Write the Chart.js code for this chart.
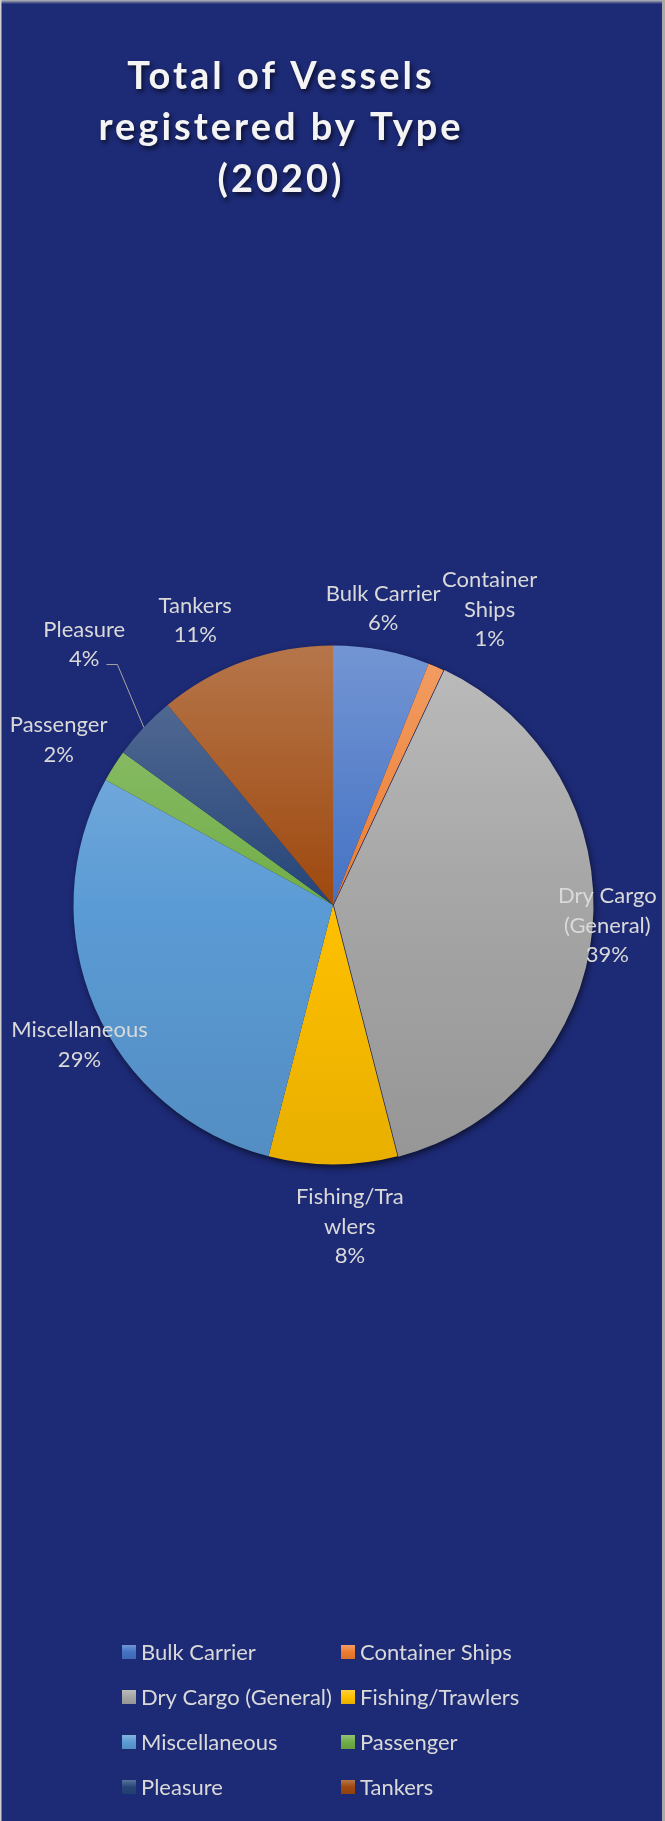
<!DOCTYPE html>
<html>
<head>
<meta charset="utf-8">
<script src="https://cdn.jsdelivr.net/npm/chart.js@4/dist/chart.umd.min.js"></script>
<style>
  html, body { margin: 0; padding: 0; background: #1d2a75; }
  #wrap { position: relative; width: 665px; height: 1821px; }
  canvas { display: block; }
</style>
</head>
<body>
<div id="wrap"><canvas id="vessels" width="665" height="1821"></canvas></div>
<script>
// Vessel categories and their share of the 2020 register (percent)
const categories = ['Bulk Carrier', 'Container Ships', 'Dry Cargo (General)', 'Fishing/Trawlers',
                    'Miscellaneous', 'Passenger', 'Pleasure', 'Tankers'];
const sharePercent = [6, 1, 39, 8, 29, 2, 4, 11];

// Wrapped category text used by the slice labels
const labelLines = [['Bulk Carrier'], ['Container', 'Ships'], ['Dry Cargo', '(General)'], ['Fishing/Tra', 'wlers'],
                    ['Miscellaneous'], ['Passenger'], ['Pleasure'], ['Tankers']];

const titleLines = ['Total of Vessels', 'registered by Type', '(2020)'];

const sliceColors = ['#4472C4', '#ED7D31', '#A5A5A5', '#FFC000', '#5B9BD5', '#70AD47', '#264478', '#9E480E'];

// Where each slice label sits: distance as a multiple of the radius, and a nudge (degrees) off the slice middle
const labelPlacement = [
  { dist: 1.16,  nudge: -1.2 },
  { dist: 1.29,  nudge: 4.5 },
  { dist: 1.06,  nudge: -1.2 },
  { dist: 1.24,  nudge: -3.0 },
  { dist: 1.115, nudge: -5.4 },
  { dist: 1.235, nudge: -1.3 },
  { dist: 1.39,  nudge: 3.2, leader: true },
  { dist: 1.22,  nudge: -6.0 }
];

const BG = '#1d2a75';
const TEXT = '#d9d9d9';
const LABEL_FONT = '22px Lato';
const LINE_H = 29.5;

function hexToRgb(h) {
  const n = parseInt(h.slice(1), 16);
  return [(n >> 16) & 255, (n >> 8) & 255, n & 255];
}
function tint(h, t) {
  const c = hexToRgb(h);
  return 'rgb(' + c.map(v => Math.round(v + (255 - v) * t)).join(',') + ')';
}
function shade(h, s) {
  const c = hexToRgb(h);
  return 'rgb(' + c.map(v => Math.round(v * s)).join(',') + ')';
}
function verticalFill(ctx, color, top, bottom) {
  const g = ctx.createLinearGradient(0, top, 0, bottom);
  g.addColorStop(0, tint(color, 0.25));
  g.addColorStop(0.5, color);
  g.addColorStop(1, shade(color, 0.91));
  return g;
}

// Page background and thin frame
const backdrop = {
  id: 'backdrop',
  beforeDraw(chart) {
    const { ctx, width, height } = chart;
    ctx.save();
    ctx.fillStyle = BG;
    ctx.fillRect(0, 0, width, height);
    const tg = ctx.createLinearGradient(0, 0, 0, 4);
    tg.addColorStop(0, '#b8b8b8');
    tg.addColorStop(1, BG);
    ctx.fillStyle = tg;
    ctx.fillRect(0, 0, width, 4);
    ctx.fillStyle = '#cfcfcf';
    ctx.fillRect(0, 0, 1.5, height);
    ctx.fillStyle = '#a9a9a9';
    ctx.fillRect(width - 3, 0, 3, height);
    ctx.restore();
  }
};

// Soft drop shadow under the whole pie (also shows through the gaps of the pulled-out slice)
const pieShadow = {
  id: 'pieShadow',
  beforeDatasetsDraw(chart) {
    const arc = chart.getDatasetMeta(0).data[0];
    if (!arc) return;
    const { ctx } = chart;
    ctx.save();
    ctx.shadowColor = 'rgba(0,0,0,0.65)';
    ctx.shadowBlur = 7;
    ctx.shadowOffsetX = 2;
    ctx.shadowOffsetY = 3;
    ctx.fillStyle = '#161e52';
    ctx.beginPath();
    ctx.arc(arc.x, arc.y, arc.outerRadius - 0.5, 0, Math.PI * 2);
    ctx.fill();
    ctx.restore();
  }
};

// Category + percentage labels around the slices
const sliceLabels = {
  id: 'sliceLabels',
  afterDatasetsDraw(chart) {
    const { ctx } = chart;
    const meta = chart.getDatasetMeta(0);
    const values = chart.data.datasets[0].data;
    ctx.save();
    ctx.font = LABEL_FONT;
    ctx.fillStyle = TEXT;
    ctx.textAlign = 'center';
    ctx.textBaseline = 'alphabetic';
    meta.data.forEach((arc, i) => {
      const p = labelPlacement[i];
      const mid = (arc.startAngle + arc.endAngle) / 2;
      const a = mid + p.nudge * Math.PI / 180;
      const R = arc.outerRadius;
      const cx = arc.x + Math.cos(a) * R * p.dist;
      const cy = arc.y + Math.sin(a) * R * p.dist;
      const lines = labelLines[i].concat([values[i] + '%']);
      const n = lines.length;
      lines.forEach((t, k) => {
        const ly = cy + (k - (n - 1) / 2) * LINE_H;
        ctx.fillText(t, cx, ly + 7.5);
      });
      if (p.leader) {
        const last = lines[n - 1];
        const w = ctx.measureText(last).width;
        const ly = cy + ((n - 1) / 2) * LINE_H + 6;
        const x0 = cx + w / 2 + 7;
        const ex = arc.x + Math.cos(mid) * R;
        const ey = arc.y + Math.sin(mid) * R;
        ctx.strokeStyle = '#a6a6a6';
        ctx.lineWidth = 1;
        ctx.beginPath();
        ctx.moveTo(x0, ly);
        ctx.lineTo(x0 + 11, ly);
        ctx.lineTo(ex, ey);
        ctx.stroke();
      }
    });
    ctx.restore();
  }
};

// Title with a soft shadow
const titleBlock = {
  id: 'titleBlock',
  afterDraw(chart) {
    const { ctx } = chart;
    ctx.save();
    ctx.font = 'bold 38px Lato';
    ctx.letterSpacing = '3px';
    ctx.textAlign = 'center';
    ctx.textBaseline = 'alphabetic';
    ctx.fillStyle = '#f4f4f4';
    ctx.shadowColor = 'rgba(0,0,0,0.6)';
    ctx.shadowBlur = 4;
    ctx.shadowOffsetX = 2;
    ctx.shadowOffsetY = 3;
    const base = [89, 140, 192];
    titleLines.forEach((t, i) => ctx.fillText(t, 281, base[i]));
    ctx.restore();
  }
};

// Two-column legend under the pie
const gridLegend = {
  id: 'gridLegend',
  afterDraw(chart) {
    const { ctx } = chart;
    const colX = [122, 341];
    const rowY0 = 1652, rowStep = 45, box = 14;
    ctx.save();
    ctx.font = LABEL_FONT;
    ctx.fillStyle = TEXT;
    ctx.textAlign = 'left';
    ctx.textBaseline = 'alphabetic';
    chart.data.labels.forEach((lab, i) => {
      const x = colX[i % 2];
      const y = rowY0 + Math.floor(i / 2) * rowStep;
      ctx.fillStyle = verticalFill(ctx, sliceColors[i], y - box / 2, y + box / 2);
      ctx.fillRect(x, y - box / 2, box, box);
      ctx.fillStyle = TEXT;
      ctx.fillText(lab, x + box + 5, y + 7.5);
    });
    ctx.restore();
  }
};

new Chart(document.getElementById('vessels'), {
  type: 'pie',
  data: {
    labels: categories,
    datasets: [{
      data: sharePercent,
      borderWidth: 0,
      offset: [0, 0, 3, 0, 0, 0, 0, 0],
      backgroundColor(ctx) {
        const chart = ctx.chart;
        const area = chart.chartArea;
        const c = sliceColors[ctx.dataIndex];
        if (!area) return c;
        return verticalFill(chart.ctx, c, area.top, area.bottom);
      }
    }]
  },
  options: {
    responsive: false,
    animation: false,
    events: [],
    layout: { padding: { left: 72, right: 71, top: 644, bottom: 655 } },
    plugins: {
      legend: { display: false },
      title: { display: false },
      tooltip: { enabled: false }
    }
  },
  plugins: [backdrop, pieShadow, sliceLabels, titleBlock, gridLegend]
});
</script>
</body>
</html>
